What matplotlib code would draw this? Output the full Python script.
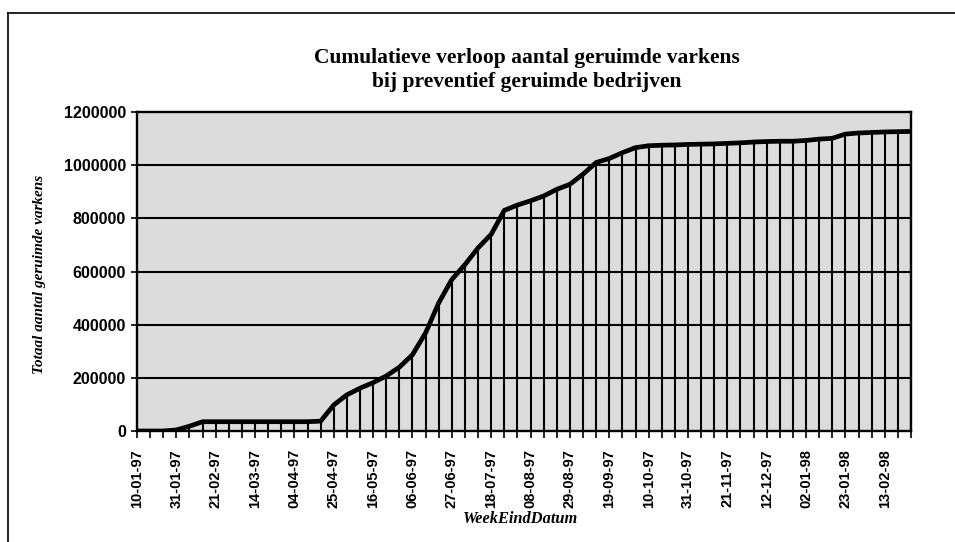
import matplotlib
matplotlib.use("Agg")
import matplotlib.pyplot as plt
from matplotlib.lines import Line2D
import numpy as np
import datetime as dt

# Week-end dates (weekly, Fridays) from 10-01-97 to 27-02-98
start = dt.date(1997, 1, 10)
week_dates = [start + dt.timedelta(weeks=i) for i in range(60)]
week_labels = [d.strftime("%d-%m-%y") for d in week_dates]

cum_pigs = [
    0, 0, 0, 4000, 18000, 35000, 35000, 35000, 35000, 35000,
    35000, 35000, 35000, 35000, 37000, 98000, 136000, 161000, 182000, 207000,
    240000, 287000, 369000, 482000, 570000, 626000, 689000, 740000, 830000, 850000,
    866000, 884000, 909000, 928000, 966000, 1010000, 1025000, 1047000, 1066000, 1073000,
    1075000, 1076000, 1078000, 1079000, 1080000, 1082000, 1084000, 1087000, 1089000, 1090000,
    1090000, 1093000, 1098000, 1101000, 1117000, 1121000, 1123000, 1125000, 1126000, 1127000,
]

y_ticks = [0, 200000, 400000, 600000, 800000, 1000000, 1200000]

title = "Cumulatieve verloop aantal geruimde varkens\nbij preventief geruimde bedrijven"
ylabel = "Totaal aantal geruimde varkens"
xlabel = "WeekEindDatum"

W, H = 955, 542
fig = plt.figure(figsize=(W / 100, H / 100), dpi=100)
fig.patch.set_facecolor("white")

ax = fig.add_axes([137 / W, (H - 431) / H, (911 - 137) / W, (431 - 112) / H])
ax.set_facecolor("#dcdcdc")

x = np.arange(len(cum_pigs))
# drop lines
ax.vlines(x, 0, cum_pigs, colors="black", linewidth=1.5, zorder=2)
# gridlines
for t in y_ticks[1:-1]:
    ax.axhline(t, color="black", linewidth=1.5, zorder=1)
ax.plot(x, cum_pigs, color="black", linewidth=3.4, zorder=3, solid_joinstyle="round")

ax.set_xlim(0, len(cum_pigs) - 1)
ax.set_ylim(0, 1200000)
ax.set_yticks(y_ticks)
ax.set_yticklabels([str(v) for v in y_ticks], fontfamily="Liberation Sans",
                   fontweight="bold", fontsize=11.5)
ax.set_xticks(x, minor=True)
ax.set_xticks(x[::3])
ax.set_xticklabels(week_labels[::3], rotation=90, fontfamily="Liberation Sans",
                   fontweight="bold", fontsize=10.5)
ax.tick_params(axis="x", which="both", direction="out", length=5, width=1.2, pad=8)
ax.tick_params(axis="y", direction="out", length=4, width=1.2, pad=4)
for s in ax.spines.values():
    s.set_linewidth(1.7)
    s.set_color("black")

fig.text(527 / W, 1 - 70 / H, title, ha="center", va="center", fontfamily="Liberation Serif",
         fontweight="bold", fontsize=15.5, linespacing=1.2)
fig.text(40 / W, 1 - 274 / H, ylabel, rotation=90, ha="center", va="center",
         fontfamily="Liberation Serif", fontweight="bold", fontstyle="italic", fontsize=11)
fig.text(520 / W, 1 - 519 / H, xlabel, ha="center", va="center",
         fontfamily="Liberation Serif", fontweight="bold", fontstyle="italic", fontsize=11.8)

# outer frame (scanned border)
fig.add_artist(Line2D([8 / W, 8 / W], [0, 1 - 13 / H], transform=fig.transFigure,
                      color="black", linewidth=1.2))
fig.add_artist(Line2D([8 / W, 1], [1 - 13 / H, 1 - 13 / H], transform=fig.transFigure,
                      color="black", linewidth=1.2))

fig.savefig("out.png", dpi=100)
